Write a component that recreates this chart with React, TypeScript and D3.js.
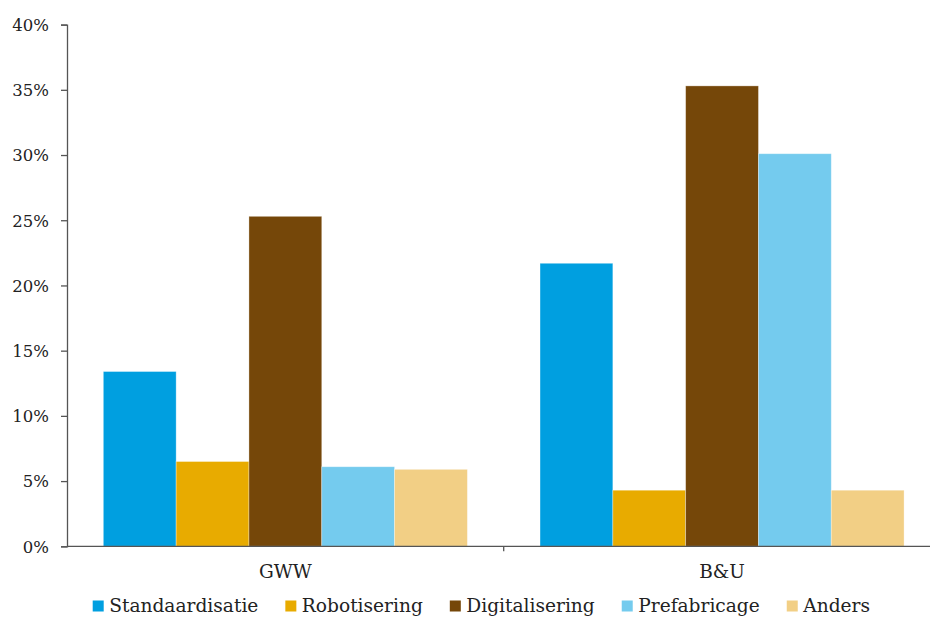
import React, { useEffect, useRef } from "react";
import * as d3 from "d3";

const categories = ["GWW", "B&U"];
const seriesNames = ["Standaardisatie", "Robotisering", "Digitalisering", "Prefabricage", "Anders"];
const seriesColors = ["#009FE0", "#E8AB00", "#754709", "#74CBEE", "#F2CF85"];
const valuesGWW = [13.4, 6.5, 25.3, 6.1, 5.9];
const valuesBU = [21.7, 4.3, 35.3, 30.1, 4.3];
const yTicks = [0, 5, 10, 15, 20, 25, 30, 35, 40];

const W = 930;
const H = 617;
const FONT = "'DejaVu Serif', serif";

export default function App() {
  const ref = useRef<SVGSVGElement>(null);

  useEffect(() => {
    const svg = d3.select(ref.current);
    svg.selectAll("*").remove();

    const left = 67, right = 940.4, top = 24.6, bottom = 546.3;
    const y = d3.scaleLinear().domain([0, 40]).range([bottom, top]);
    const x0 = d3.scaleBand<string>().domain(categories).range([left, right]).padding(0);
    const pad = x0.bandwidth() * 0.0832;
    const x1 = d3.scaleBand<string>().domain(seriesNames).range([pad, x0.bandwidth() - pad]).padding(0);

    const table = categories.map((c, i) => ({ cat: c, vals: i === 0 ? valuesGWW : valuesBU }));

    const g = svg.append("g");
    table.forEach((row) => {
      row.vals.forEach((v, j) => {
        g.append("rect")
          .attr("x", (x0(row.cat) as number) + (x1(seriesNames[j]) as number))
          .attr("y", y(v))
          .attr("width", x1.bandwidth())
          .attr("height", y(0) - y(v))
          .attr("fill", seriesColors[j])
          .attr("stroke", "rgba(255,255,255,0.4)")
          .attr("stroke-width", 0.8);
      });
    });

    // Y axis
    const yAxis = svg.append("g").attr("transform", `translate(${left},0)`)
      .call(d3.axisLeft(y).tickValues(yTicks).tickSize(6).tickPadding(12).tickFormat((d) => `${d}%`));
    yAxis.select(".domain").attr("stroke", "#555").attr("stroke-width", 1.3);
    yAxis.selectAll(".tick line").attr("stroke", "#555").attr("stroke-width", 1.3);
    yAxis.selectAll("text").attr("font-family", FONT).attr("font-size", 16.5).attr("fill", "#222").attr("dy", "0.35em");

    // X axis
    const xAxisG = svg.append("g").attr("transform", `translate(0,${bottom})`);
    xAxisG.append("line").attr("x1", left).attr("x2", right).attr("y1", 0).attr("y2", 0)
      .attr("stroke", "#555").attr("stroke-width", 1.3);
    categories.forEach((c, i) => {
      const bx = x0(c) as number;
      if (i > 0) {
        xAxisG.append("line").attr("x1", bx).attr("x2", bx).attr("y1", 0).attr("y2", 5)
          .attr("stroke", "#555").attr("stroke-width", 1.3);
      }
      xAxisG.append("text")
        .attr("x", bx + x0.bandwidth() / 2)
        .attr("y", 31.5)
        .attr("text-anchor", "middle")
        .attr("font-family", FONT)
        .attr("font-size", 18.5)
        .attr("fill", "#222")
        .text(c);
    });

    // Legend
    const lg = svg.append("g").attr("transform", `translate(92.7,0)`);
    let cx = 0;
    seriesNames.forEach((n, j) => {
      lg.append("rect").attr("x", cx).attr("y", 600.5).attr("width", 11).attr("height", 11).attr("fill", seriesColors[j]);
      const t = lg.append("text")
        .attr("x", cx + 16.5)
        .attr("y", 612)
        .attr("font-family", FONT)
        .attr("font-size", 18.6)
        .attr("fill", "#222")
        .text(n);
      const w = (t.node() as SVGTextElement).getComputedTextLength();
      cx += 16.5 + w + 27;
    });
  }, []);

  return (
    <svg ref={ref} width={W} height={H} style={{ position: "absolute", left: 0, top: 0, display: "block" }} />
  );
}
